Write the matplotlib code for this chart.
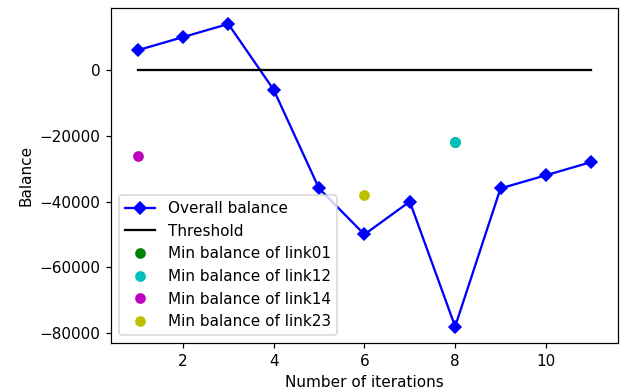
import numpy as np
import matplotlib.pyplot as plt

# iteration data
iterations = [1, 2, 3, 4, 5, 6, 7, 8, 9, 10, 11]
overall_balance = [6000, 10000, 14000, -6000, -36000, -50000, -40000, -78000, -36000, -32000, -28000]
threshold = [0] * len(iterations)

# minimum balance per link (iteration, value)
link01_x, link01_y = [8], [-22000]
link12_x, link12_y = [8], [-22000]
link14_x, link14_y = [1], [-26000]
link23_x, link23_y = [6], [-38000]

dpi = 110
fig = plt.figure(figsize=(632 / dpi, 392 / dpi), dpi=dpi)
ax = fig.add_axes([0.1756, 0.125, 0.802, 0.855])

ax.plot(iterations, overall_balance, 'b-D', markersize=6, label='Overall balance')
ax.plot(iterations, threshold, 'k-', label='Threshold')
ax.plot(link01_x, link01_y, 'go', label='Min balance of link01')
ax.plot(link12_x, link12_y, 'co', label='Min balance of link12')
ax.plot(link14_x, link14_y, 'mo', label='Min balance of link14')
ax.plot(link23_x, link23_y, 'yo', label='Min balance of link23')

ax.set_xlim(0.414, 11.586)
ax.set_ylim(-83000, 18900)
ax.set_xlabel('Number of iterations')
ax.set_ylabel('Balance')
ax.legend(loc='lower left')

fig.savefig('out.png', dpi=dpi)
